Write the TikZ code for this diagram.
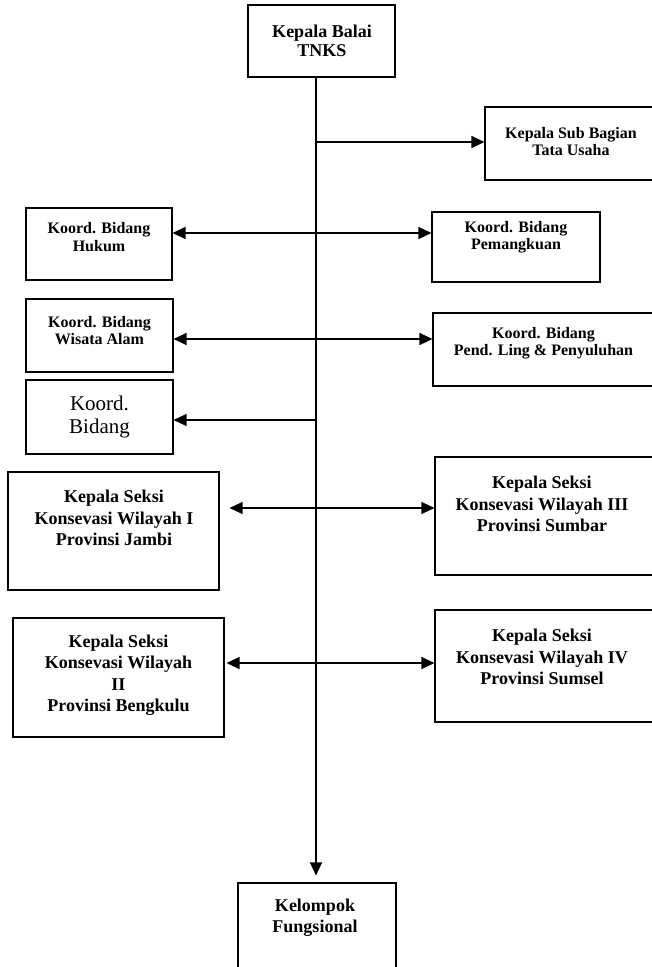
\documentclass[tikz,border=0pt]{standalone}
\usepackage{fontspec}
\setmainfont{Liberation Serif}
\usetikzlibrary{arrows.meta}
\begin{document}
\begin{tikzpicture}[x=1pt,y=-1pt,
  box/.style={draw, line width=1.1pt, inner sep=0pt},
  txt/.style={align=center, inner sep=0pt},
  fa/.style={font=\bfseries\fontsize{18}{19}\selectfont},
  fb/.style={font=\bfseries\fontsize{16}{17.5}\selectfont},
  fc/.style={font=\bfseries\fontsize{18}{21.5}\selectfont},
  fd/.style={font=\fontsize{21}{23}\selectfont},
  conn/.style={line width=1.2pt},
  tri/.tip={Triangle[length=13pt,width=12pt]},
]
\useasboundingbox (0,0) rectangle (651,967);

% boxes
\node[box, minimum width=147pt, minimum height=72pt] (top) at (321.5,41) {};
\node[box, minimum width=170pt, minimum height=73pt] (sub) at (570,143.5) {};
\node[box, minimum width=146pt, minimum height=72pt] (hukum) at (99,244) {};
\node[box, minimum width=168pt, minimum height=70pt] (pemang) at (516,247) {};
\node[box, minimum width=147pt, minimum height=73pt] (wisata) at (99.5,335.5) {};
\node[box, minimum width=222pt, minimum height=73pt] (pend) at (544,349.5) {};
\node[box, minimum width=147pt, minimum height=74pt] (koord) at (99.5,417) {};
\node[box, minimum width=211pt, minimum height=118pt] (wil1) at (113.5,531) {};
\node[box, minimum width=220pt, minimum height=118pt] (wil3) at (545,516) {};
\node[box, minimum width=211pt, minimum height=119pt] (wil2) at (118.5,677.5) {};
\node[box, minimum width=220pt, minimum height=112pt] (wil4) at (545,666) {};
\node[box, minimum width=158pt, minimum height=100pt] (kel) at (317,933) {};

% texts
\node[txt, fa] (topt) at (322,41) {Kepala Balai\\TNKS};
\node[txt, fb] (subt) at (571,141.5) {Kepala Sub Bagian\\Tata Usaha};
\node[txt, fb] (hukumt) at (99,237) {Koord. Bidang\\Hukum};
\node[txt, fb] (pemangt) at (516,237) {Koord. Bidang\\Pemangkuan};
\node[txt, fb] (wisatat) at (99.5,330.5) {Koord. Bidang\\Wisata Alam};
\node[txt, fb] (pendt) at (543.5,343) {Koord. Bidang\\Pend. Ling \& Penyuluhan};
\node[txt, fd] (koordt) at (99.5,416.5) {Koord.\\Bidang};
\node[txt, fc] (wil1t) at (114,518) {Kepala Seksi\\Konsevasi Wilayah I\\Provinsi Jambi};
\node[txt, fc] (wil3t) at (542,504) {Kepala Seksi\\Konsevasi Wilayah III\\Provinsi Sumbar};
\node[txt, fc] (wil2t) at (118.5,675) {Kepala Seksi\\Konsevasi Wilayah\\II\\Provinsi Bengkulu};
\node[txt, fc] (wil4t) at (542,657) {Kepala Seksi\\Konsevasi Wilayah IV\\Provinsi Sumsel};
\node[txt, fc] (kelt) at (315,917.5) {Kelompok\\Fungsional};

% trunk
\coordinate (tr) at (316,77);
\draw[conn, -{tri}, shorten >=7pt] (tr) -- (tr |- kel.north);

% branch points
\coordinate (b1) at (316,142);
\coordinate (b2) at (316,233);
\coordinate (b3) at (316,339);
\coordinate (b4) at (316,420);
\coordinate (b5) at (316,508);
\coordinate (b6) at (316,663);

\draw[conn, -{tri}] (b1) -- (b1 -| sub.west);
\draw[conn, {tri}-{tri}] (b2 -| hukum.east) -- (b2 -| pemang.west);
\draw[conn, {tri}-{tri}] (b3 -| wisata.east) -- (b3 -| pend.west);
\draw[conn, -{tri}] (b4) -- (b4 -| koord.east);
\draw[conn, {tri}-{tri}, shorten <=10pt] (b5 -| wil1.east) -- (b5 -| wil3.west);
\draw[conn, {tri}-{tri}, shorten <=2pt] (b6 -| wil2.east) -- (b6 -| wil4.west);
\end{tikzpicture}
\end{document}
